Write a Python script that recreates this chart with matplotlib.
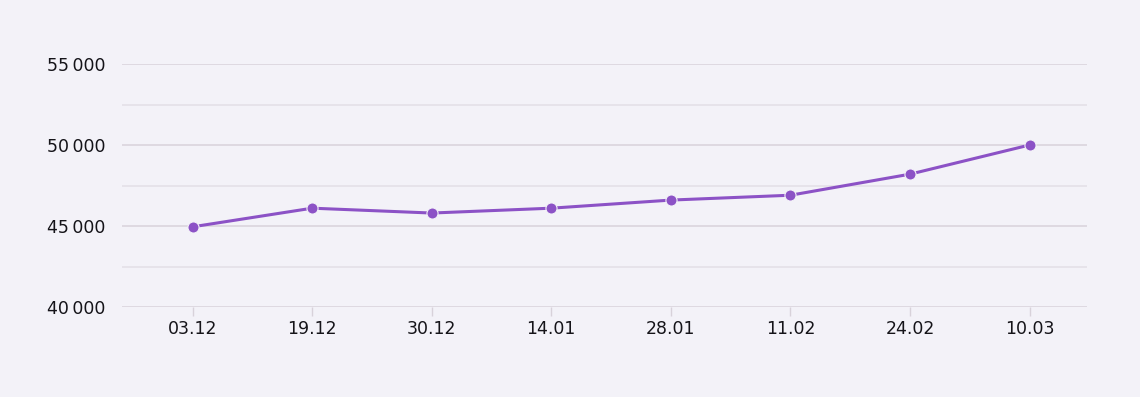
import matplotlib
matplotlib.use("Agg")
import matplotlib.pyplot as plt
from matplotlib.ticker import FuncFormatter, MultipleLocator

dates = ["03.12", "19.12", "30.12", "14.01", "28.01", "11.02", "24.02", "10.03"]
values = [44950, 46100, 45800, 46100, 46600, 46900, 48200, 50000]
y_major = [40000, 45000, 50000, 55000]

BG = "#f3f2f8"
LINE = "#8c52c6"
TEXT = "#151419"

plt.rcParams['font.family'] = ['DejaVu Sans']

fig = plt.figure(figsize=(11.4, 3.97), dpi=100, facecolor=BG)
ax = fig.add_axes([122/1140, (397-307)/397, (1087-122)/1140, (307-64)/397])
ax.set_facecolor(BG)

x = list(range(len(dates)))
ax.plot(x, values, color=LINE, lw=2.2, marker='o', ms=8, mfc=LINE,
        mec=BG, mew=0.8, zorder=3, solid_capstyle='round')

ax.set_ylim(40000, 55000)
ax.set_xlim(-0.59, len(dates) - 1 + 0.48)
ax.set_yticks(y_major)
ax.yaxis.set_minor_locator(MultipleLocator(2500))
ax.yaxis.set_major_formatter(FuncFormatter(lambda v, p: f"{int(v):,}".replace(",", "\u2009")))
ax.grid(axis='y', which='major', color='#d8d2da', lw=1.1, zorder=0)
ax.grid(axis='y', which='minor', color='#e3dfe7', lw=1.1, zorder=0)
ax.set_xticks(x)
ax.set_xticklabels(dates)

for s in ax.spines.values():
    s.set_visible(False)
ax.tick_params(axis='y', which='both', length=0, pad=12, labelsize=12.5, labelcolor=TEXT)
ax.tick_params(axis='x', length=6.5, width=1, color='#d8d2da', pad=2.5, labelsize=12.5, labelcolor=TEXT)

fig.savefig("out.png", dpi=100, facecolor=BG)
